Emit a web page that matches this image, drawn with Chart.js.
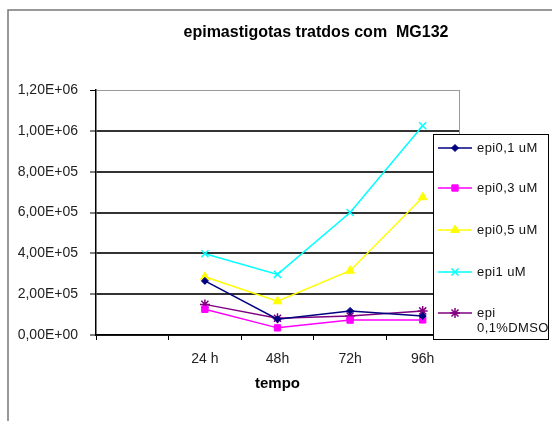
<!DOCTYPE html>
<html>
<head>
<meta charset="utf-8">
<script src="https://cdn.jsdelivr.net/npm/chart.js@4"></script>
<style>
  html, body { margin: 0; padding: 0; background: #fff; }
  #wrap { width: 552px; height: 421px; position: relative; }
</style>
</head>
<body>
<div id="wrap"><canvas id="chart" width="552" height="421"></canvas></div>
<script>
const categories = ['', '24 h', '48h', '72h', '96h'];
const seriesNames = ['epi0,1 uM', 'epi0,3 uM', 'epi0,5 uM', 'epi1 uM', 'epi 0,1%DMSO'];
const epi01 = [null, 265000, 77000, 118000, 93000];
const epi03 = [null, 126000, 35000, 73000, 74000];
const epi05 = [null, 285000, 165000, 315000, 675000];
const epi1 = [null, 398000, 297000, 600000, 1025000];
const dmso = [null, 150000, 82000, 93000, 118000];
const yTicks = [0, 200000, 400000, 600000, 800000, 1000000, 1200000];

const FONT = "'Liberation Sans', Arial, sans-serif";

function excelSci(v) {
    // 1200000 -> "1,20E+06"
    const parts = Number(v).toExponential(2).split('e');
    const mant = parts[0].replace('.', ',');
    const exp = parseInt(parts[1], 10);
    const sign = exp < 0 ? '-' : '+';
    return mant + 'E' + sign + String(Math.abs(exp)).padStart(2, '0');
}

function makeSet(label, data, color, style, radius) {
    return {
        label: label,
        data: data,
        borderColor: color,
        backgroundColor: color,
        borderWidth: 1.5,
        pointStyle: style,
        pointRadius: radius,
        pointBorderWidth: style === 'crossRot' || style === 'star' ? 1.5 : 1,
        pointBorderColor: color,
        pointBackgroundColor: color,
        tension: 0,
        spanGaps: false
    };
}

const datasets = [
    makeSet(seriesNames[0], epi01, '#000080', 'rectRot', 3.5),
    makeSet(seriesNames[1], epi03, '#ff00ff', 'rect', 4.5),
    makeSet(seriesNames[2], epi05, '#ffff00', 'triangle', 5),
    makeSet(seriesNames[3], epi1, '#00ffff', 'crossRot', 5),
    makeSet(seriesNames[4], dmso, '#800080', 'star', 5)
];

// frame, title, plot border and the boxed legend
const decorations = {
    id: 'decorations',
    beforeDraw(chart) {
        const ctx = chart.ctx;
        ctx.save();
        ctx.strokeStyle = '#777';
        ctx.lineWidth = 1.5;
        ctx.beginPath();
        ctx.moveTo(8, 421);
        ctx.lineTo(8, 10);
        ctx.lineTo(552, 10);
        ctx.stroke();

        ctx.fillStyle = '#000';
        ctx.font = 'bold 16px ' + FONT;
        ctx.textAlign = 'center';
        ctx.textBaseline = 'middle';
        ctx.fillText('epimastigotas tratdos com  MG132', 316, 33);
        ctx.restore();
    },
    beforeDatasetsDraw(chart) {
        const a = chart.chartArea;
        const ctx = chart.ctx;
        ctx.save();
        ctx.strokeStyle = '#999';
        ctx.lineWidth = 1;
        ctx.beginPath();
        ctx.moveTo(a.right + 0.5, a.top);
        ctx.lineTo(a.right + 0.5, a.bottom);
        ctx.stroke();
        ctx.restore();
    },
    afterDraw(chart) {
        const ctx = chart.ctx;
        const box = { x: 433, y: 134, w: 115, h: 205 };
        ctx.save();
        ctx.fillStyle = '#fff';
        ctx.fillRect(box.x, box.y, box.w, box.h);
        ctx.strokeStyle = '#000';
        ctx.lineWidth = 1;
        ctx.strokeRect(box.x + 0.5, box.y + 0.5, box.w, box.h);

        const rows = [148, 188, 230, 272, 313];
        chart.data.datasets.forEach((ds, i) => {
            const y = rows[i];
            ctx.strokeStyle = ds.borderColor;
            ctx.fillStyle = ds.backgroundColor;
            ctx.lineWidth = ds.borderWidth;
            ctx.beginPath();
            ctx.moveTo(438, y);
            ctx.lineTo(472, y);
            ctx.stroke();
            ctx.lineWidth = ds.pointBorderWidth;
            Chart.helpers.drawPoint(ctx, {
                pointStyle: ds.pointStyle,
                radius: ds.pointRadius,
                rotation: 0,
                borderWidth: ds.pointBorderWidth
            }, 455, y);

            ctx.font = '13px ' + FONT;
            ctx.letterSpacing = '0.4px';
            ctx.textAlign = 'left';
            ctx.textBaseline = 'middle';
            ctx.fillStyle = '#111';
            if (i === 4) {
                ctx.fillText('epi', 477, y);
                ctx.fillText('0,1%DMSO', 477, y + 15);
            } else {
                ctx.fillText(ds.label, 477, y);
            }
            ctx.letterSpacing = '0px';
        });
        ctx.restore();
    }
};

new Chart(document.getElementById('chart'), {
    type: 'line',
    data: { labels: categories, datasets: datasets },
    plugins: [decorations],
    options: {
        responsive: false,
        animation: false,
        layout: { padding: { left: 0, top: 90, right: 93, bottom: 0 } },
        plugins: {
            legend: { display: false },
            title: { display: false },
            tooltip: { enabled: false }
        },
        scales: {
            x: {
                offset: true,
                grid: {
                    offset: true,
                    drawOnChartArea: false,
                    drawTicks: true,
                    tickLength: 5,
                    tickColor: '#000',
                    tickWidth: 1
                },
                border: { display: true, color: '#000', width: 1.5 },
                ticks: {
                    color: '#222',
                    padding: 11,
                    font: { family: FONT, size: 14 }
                },
                title: {
                    display: true,
                    text: 'tempo',
                    color: '#000',
                    padding: { top: 0, bottom: 28 },
                    font: { family: FONT, size: 15, weight: 'bold' }
                },
                afterFit(scale) { scale.height = 86; }
            },
            y: {
                min: 0,
                max: 1200000,
                afterBuildTicks(scale) {
                    scale.ticks = yTicks.map(v => ({ value: v }));
                },
                grid: {
                    color: ctx => ctx.tick && ctx.tick.value === 1200000 ? '#999' : '#333',
                    lineWidth: ctx => ctx.tick && ctx.tick.value === 1200000 ? 1 : 2,
                    tickLength: 6,
                    tickColor: '#000',
                    tickWidth: 1
                },
                border: { display: true, color: '#000', width: 1.5 },
                ticks: {
                    color: '#222',
                    padding: 12,
                    font: { family: FONT, size: 14 },
                    callback: v => excelSci(v)
                },
                afterFit(scale) { scale.width = 96; }
            }
        }
    }
});
</script>
</body>
</html>
